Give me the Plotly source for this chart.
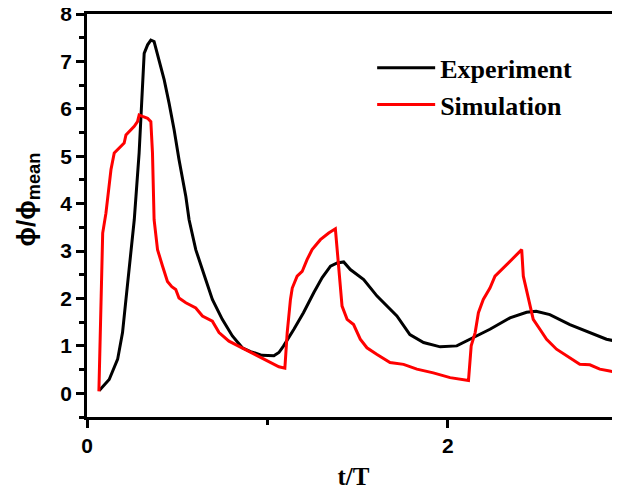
import plotly.graph_objects as go

# Experiment (black)
exp_t = [0.068, 0.105, 0.123, 0.17, 0.197, 0.216, 0.243, 0.262, 0.289, 0.308, 0.317, 0.336, 0.354,
         0.372, 0.40, 0.428, 0.455, 0.483, 0.51, 0.548, 0.566, 0.603, 0.658, 0.695, 0.75, 0.806,
         0.861, 0.907, 0.97, 1.036, 1.064, 1.09, 1.147, 1.20, 1.257, 1.304, 1.35, 1.387, 1.423,
         1.46, 1.534, 1.608, 1.718, 1.79, 1.866, 1.958, 2.05, 2.124, 2.234, 2.345, 2.437, 2.49,
         2.566, 2.677, 2.788, 2.88, 2.955]
exp_v = [0.06, 0.22, 0.29, 0.72, 1.28, 1.98, 3.03, 3.66, 5.07, 6.47, 7.17, 7.35, 7.45,
         7.42, 7.03, 6.61, 6.12, 5.56, 4.93, 4.15, 3.66, 3.03, 2.4, 1.98, 1.56, 1.21,
         0.96, 0.88, 0.8, 0.79, 0.86, 1.0, 1.35, 1.7, 2.12, 2.44, 2.68, 2.75, 2.77,
         2.61, 2.4, 2.05, 1.63, 1.24, 1.07, 0.98, 1.0, 1.14, 1.35, 1.59, 1.71, 1.73,
         1.66, 1.45, 1.28, 1.14, 1.08]

# Simulation (red)
sim_t = [0.066, 0.072, 0.077, 0.087, 0.105, 0.123, 0.133, 0.151, 0.179, 0.206, 0.216, 0.243, 0.262,
         0.28, 0.289, 0.308, 0.336, 0.354, 0.363, 0.372, 0.391, 0.419, 0.446, 0.47,
         0.492, 0.51, 0.548, 0.603, 0.64, 0.695, 0.732, 0.787, 0.861, 0.935,
         1.008, 1.064, 1.097, 1.11, 1.128, 1.138, 1.165, 1.193, 1.22, 1.248, 1.294, 1.34,
         1.377, 1.395, 1.414, 1.442, 1.478, 1.515, 1.552, 1.608, 1.68, 1.755, 1.829, 1.92,
         2.013, 2.115, 2.13, 2.152, 2.17, 2.197, 2.234, 2.262, 2.308, 2.363, 2.41, 2.419,
         2.447, 2.474, 2.511, 2.548, 2.603, 2.677, 2.732, 2.788, 2.843, 2.898, 2.955]
sim_v = [0.04, 1.0, 1.98, 3.38, 3.8, 4.44, 4.72, 5.07, 5.17, 5.28, 5.45, 5.56, 5.63,
         5.73, 5.87, 5.84, 5.8, 5.73, 5.07, 3.66, 3.03, 2.68, 2.36, 2.25,
         2.19, 2.01, 1.91, 1.8, 1.63, 1.52, 1.28, 1.1, 0.96, 0.82,
         0.68, 0.56, 0.53, 1.28, 1.98, 2.22, 2.47, 2.57, 2.82, 3.03, 3.24, 3.38,
         3.47, 2.68, 1.84, 1.56, 1.45, 1.14, 0.96, 0.82, 0.65, 0.61, 0.51, 0.43,
         0.33, 0.27, 1.0, 1.28, 1.7, 1.98, 2.22, 2.47, 2.65, 2.85, 3.03, 2.47,
         1.98, 1.56, 1.35, 1.14, 0.93, 0.75, 0.61, 0.6, 0.51, 0.47, 0.43]

fig = go.Figure()
fig.add_trace(go.Scatter(x=exp_t, y=exp_v, mode="lines", name="<b>Experiment</b>",
                         line=dict(color="black", width=3)))
fig.add_trace(go.Scatter(x=sim_t, y=sim_v, mode="lines", name="<b>Simulation</b>",
                         line=dict(color="#ff0000", width=3)))

tickfont = dict(family="Liberation Sans", size=21, color="black", weight="bold")

fig.update_layout(
    width=612, height=484,
    margin=dict(l=79, r=0, t=6, b=75),
    plot_bgcolor="white", paper_bgcolor="white",
    showlegend=True,
    legend=dict(x=0.535, y=0.925, xanchor="left", yanchor="top",
                bgcolor="rgba(0,0,0,0)", itemwidth=58,
                font=dict(family="Liberation Serif", size=26, color="black"),
                tracegroupgap=0),
    xaxis=dict(range=[0, 2.955], dtick=2, tick0=0, showgrid=False, zeroline=False,
               automargin=False, ticklabeloverflow="allow",
               showline=True, linecolor="black", linewidth=2.5, mirror=True,
               ticks="outside", ticklen=8, tickwidth=2.5, tickcolor="black",
               minor=dict(dtick=1, tick0=0, ticks="outside", ticklen=5, tickwidth=2.5, tickcolor="black"),
               tickfont=tickfont,
               title=dict(text="<b>t/T</b>", font=dict(family="Liberation Serif", size=25, color="black"),
                          standoff=12)),
    yaxis=dict(range=[-0.5, 8], dtick=1, tick0=0, showgrid=False, zeroline=False,
               automargin=False, ticklabeloverflow="allow",
               showline=True, linecolor="black", linewidth=2.5, mirror=False,
               ticks="outside", ticklen=8, tickwidth=2.5, tickcolor="black",
               minor=dict(dtick=0.5, tick0=0, ticks="outside", ticklen=5, tickwidth=2.5, tickcolor="black"),
               tickfont=tickfont),
    annotations=[dict(text="<b>ϕ/ϕ<sub>mean</sub></b>", textangle=-90,
                      xref="paper", yref="paper", x=0, y=0.54,
                      xanchor="center", yanchor="middle", xshift=-60, showarrow=False,
                      font=dict(family="Liberation Sans", size=26, color="black"))],
)

fig.write_html("out.html")
